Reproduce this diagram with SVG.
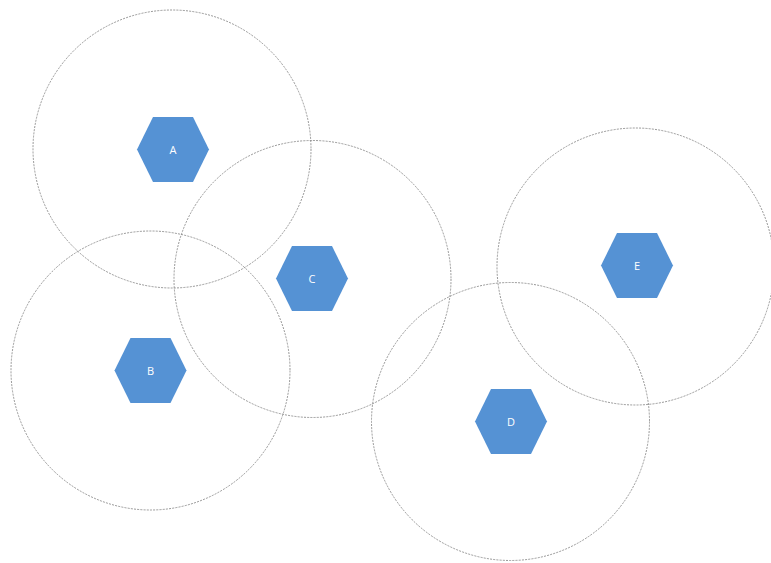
<svg xmlns="http://www.w3.org/2000/svg" width="771" height="563" viewBox="0 0 771 563">
<style>
.range{fill:none;stroke:#8c8c8c;stroke-width:0.9;stroke-dasharray:2 1.2}
.hex{fill:#5592d4}
.lbl{fill:#ffffff;font-family:"Open Sans","Liberation Sans",sans-serif;font-size:11px;text-anchor:middle;dominant-baseline:central}
</style>
<defs>
<polygon id="hexshape" class="hex" points="-36,0 -20,-32.5 20,-32.5 36,0 20,32.5 -20,32.5"/>
</defs>
<rect width="771" height="563" fill="#ffffff"/>
<g id="ranges">
<circle class="range" cx="172" cy="149" r="139"/>
<circle class="range" cx="312.5" cy="279" r="138.5"/>
<circle class="range" cx="150.5" cy="370.5" r="139.5"/>
<circle class="range" cx="510.5" cy="421.5" r="139"/>
<circle class="range" cx="635.5" cy="266.5" r="138.5"/>
</g>
<g id="node-A" transform="translate(173,149.5)"><use href="#hexshape"/><text class="lbl" x="0" y="0">A</text></g>
<g id="node-C" transform="translate(312,278.5)"><use href="#hexshape"/><text class="lbl" x="0" y="0">C</text></g>
<g id="node-B" transform="translate(150.5,370.5)"><use href="#hexshape"/><text class="lbl" x="0" y="0">B</text></g>
<g id="node-D" transform="translate(511,421.5)"><use href="#hexshape"/><text class="lbl" x="0" y="0">D</text></g>
<g id="node-E" transform="translate(637,265.5)"><use href="#hexshape"/><text class="lbl" x="0" y="0">E</text></g>
<g id="connectors"></g>
</svg>
